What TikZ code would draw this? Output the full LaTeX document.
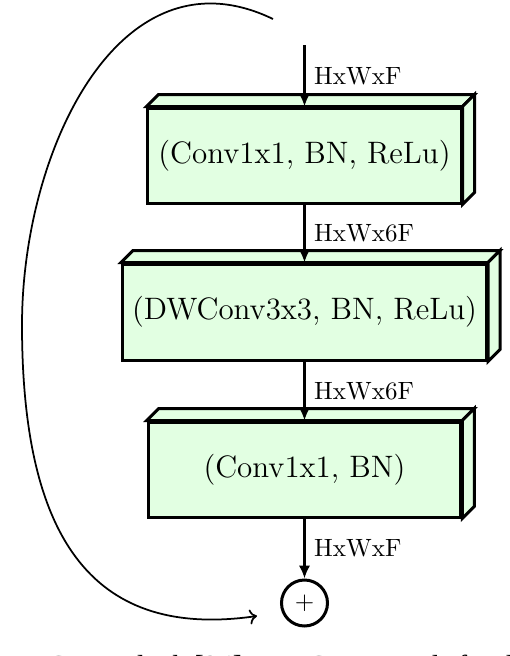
\documentclass[tikz,border=0pt]{standalone}
\usepackage{fontspec}
\newfontfamily\capfont{Liberation Serif}
\usetikzlibrary{arrows.meta,calc}
\definecolor{boxgreen}{RGB}{226,255,226}
\tikzset{
  frontbox/.style={draw, fill=boxgreen, line width=1.2pt, rectangle, inner sep=0pt,
    font=\fontsize{12.4}{15}\selectfont, line join=miter},
  boxface/.style={draw, fill=boxgreen, line width=1.2pt, line join=miter},
  mainarrow/.style={line width=1.2pt, -{Latex[length=5.2pt,width=4.6pt]}},
  lbl/.style={right, font=\normalsize, inner sep=3.3pt},
  sumnode/.style={draw, circle, line width=1.2pt, minimum size=18.4pt, inner sep=0pt},
  looparrow/.style={line width=0.7pt, -{To[length=3pt,width=6pt]}},
}
\newcommand{\depthfaces}[1]{%
  \draw[boxface] (#1.north west) -- ++(12,-12) -- ($(#1.north east)+(12,-12)$) -- (#1.north east) -- cycle;
  \draw[boxface] (#1.north east) -- ++(12,-12) -- ($(#1.south east)+(12,-12)$) -- (#1.south east) -- cycle;
}
\begin{document}
\begin{tikzpicture}[x=0.4pt,y=-0.4pt]
\useasboundingbox (0,0) rectangle (510,656);
% blocks
\node[frontbox, minimum width=125.2pt, minimum height=38pt] (b1) at (304.5,155.5) {(Conv1x1, BN, ReLu)};
\depthfaces{b1}
\node[frontbox, minimum width=145.6pt, minimum height=38.4pt] (b2) at (304.5,312) {(DWConv3x3, BN, ReLu)};
\depthfaces{b2}
\node[frontbox, minimum width=125pt, minimum height=38pt] (b3) at (304.5,469.5) {(Conv1x1, BN)};
\depthfaces{b3}
\node[sumnode] (sum) at (304.5,603) {$+$};
\coordinate (in) at (304.5,45);
% main arrows
\draw[mainarrow] (in) -- node[lbl] (l1) {HxWxF} (b1.north);
\draw[mainarrow] (b1.south) -- node[lbl] (l2) {HxWx6F} (b2.north);
\draw[mainarrow] (b2.south) -- node[lbl] (l3) {HxWx6F} (b3.north);
\draw[mainarrow] (b3.south) -- node[lbl] (l4) {HxWxF} (sum.north);
% skip connection
\coordinate (loopstart) at (273,19);
\coordinate (loopmid) at (22,325);
\coordinate (loopend) at (257,616);
\draw[looparrow] (loopstart) .. controls (120,-55) and (22,150) .. (loopmid)
  .. controls (22,545) and (97,639) .. (loopend);
% cut-off caption
\begin{scope}
\clip (0,0) rectangle (510,656);
\node[anchor=base west, inner sep=0pt, font=\capfont\fontsize{11.6}{14}\selectfont] (cap) at (2,675) {MBConv Block [24]. DWConv stands for depthwise convolution};
\end{scope}
\end{tikzpicture}
\end{document}
